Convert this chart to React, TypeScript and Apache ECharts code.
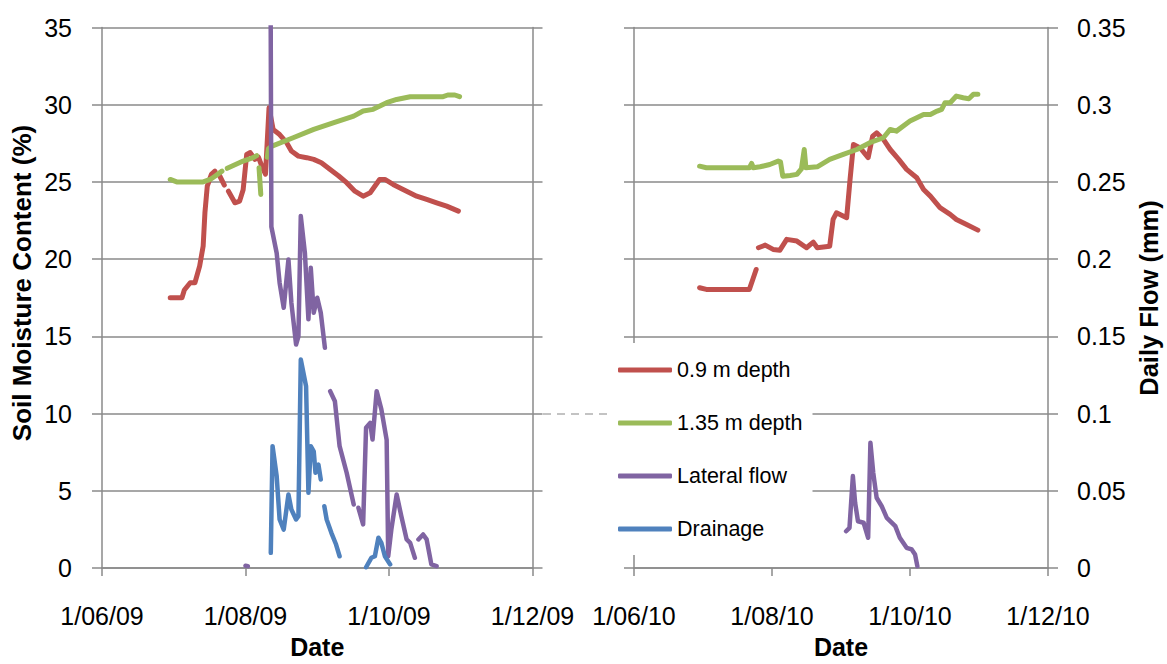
import React, { useEffect, useRef } from "react";
import * as echarts from "echarts";

// ---- data ---------------------------------------------------------------
// [date (local), value]; null marks a break in the record.
type Pt = [string, number | null];

const SERIES_NAMES = ["0.9 m depth", "1.35 m depth", "Lateral flow", "Drainage"];

const DATE_TICKS_2009 = ["2009-06-01", "2009-08-01", "2009-10-01", "2009-12-01"];
const DATE_TICKS_2010 = ["2010-06-01", "2010-08-01", "2010-10-01", "2010-12-01"];

const MOISTURE_RANGE = [0, 35, 5]; // min, max, step (%)
const FLOW_RANGE = [0, 0.35, 0.05]; // min, max, step (mm)

// Soil moisture (%) at 0.9 m, 2009
const moist09_2009: Pt[] = [
  ["2009-06-30", 17.5], ["2009-07-05", 17.5], ["2009-07-06", 18.0], ["2009-07-08 12:00", 18.47],
  ["2009-07-10 12:00", 18.47], ["2009-07-12 12:00", 19.55], ["2009-07-14", 20.84],
  ["2009-07-14 18:00", 23.0], ["2009-07-15 18:00", 24.73], ["2009-07-17 12:00", 25.49],
  ["2009-07-19", 25.7], ["2009-07-20", null], ["2009-07-21", 25.4], ["2009-07-23", 24.8],
  ["2009-07-24", null], ["2009-07-24 18:00", 24.4], ["2009-07-27 12:00", 23.65],
  ["2009-07-29 12:00", 23.76], ["2009-07-31", 24.5], ["2009-08-01 12:00", 26.78],
  ["2009-08-03", 26.9], ["2009-08-05", 26.46], ["2009-08-06 12:00", 26.6], ["2009-08-08", 26.0],
  ["2009-08-09 12:00", 25.5], ["2009-08-11", 29.8], ["2009-08-12 18:00", 28.4],
  ["2009-08-15 12:00", 28.07], ["2009-08-18 12:00", 27.54], ["2009-08-20 12:00", 27.0],
  ["2009-08-23 12:00", 26.67], ["2009-08-27", 26.57], ["2009-08-30", 26.46],
  ["2009-09-02 06:00", 26.24], ["2009-09-06", 25.8], ["2009-09-09 12:00", 25.4],
  ["2009-09-13", 24.95], ["2009-09-16 12:00", 24.4], ["2009-09-20", 24.08], ["2009-09-23", 24.3],
  ["2009-09-27", 25.16], ["2009-09-29 06:00", 25.16], ["2009-10-02 18:00", 24.84],
  ["2009-10-07", 24.51], ["2009-10-12 18:00", 24.08], ["2009-10-17", 23.87],
  ["2009-10-21 06:00", 23.65], ["2009-10-25 12:00", 23.43], ["2009-10-30 12:00", 23.11],
];

// Soil moisture (%) at 1.35 m, 2009
const moist135_2009: Pt[] = [
  ["2009-06-30", 25.16], ["2009-07-02 18:00", 25.0], ["2009-07-14", 25.0], ["2009-07-17", 25.16],
  ["2009-07-19", 25.37], ["2009-07-22", 25.7], ["2009-07-23", null], ["2009-07-24 06:00", 25.88],
  ["2009-07-31", 26.35], ["2009-08-04 06:00", 26.57], ["2009-08-05 18:00", 26.7],
  ["2009-08-06 06:00", null], ["2009-08-06 18:00", 25.92], ["2009-08-07 12:00", 24.19],
  ["2009-08-08 12:00", null], ["2009-08-10 06:00", 26.6], ["2009-08-10 18:00", 27.15],
  ["2009-08-12", 27.3], ["2009-08-21 06:00", 27.86], ["2009-08-30", 28.4],
  ["2009-09-07 06:00", 28.83], ["2009-09-16", 29.26], ["2009-09-20", 29.59],
  ["2009-09-24 06:00", 29.7], ["2009-09-30", 30.13], ["2009-10-04 06:00", 30.34],
  ["2009-10-10", 30.52], ["2009-10-24", 30.52], ["2009-10-26", 30.63], ["2009-10-29", 30.63],
  ["2009-10-31", 30.52],
];

// Daily lateral flow (mm), 2009
const lateral_2009: Pt[] = [
  ["2009-08-01", 0.0015], ["2009-08-02", 0.0012], ["2009-08-05", null],
  ["2009-08-11 12:00", 0.45], ["2009-08-12", 0.221], ["2009-08-14 06:00", 0.204],
  ["2009-08-15 12:00", 0.1847], ["2009-08-17 06:00", 0.1685], ["2009-08-19 06:00", 0.1998],
  ["2009-08-20 12:00", 0.1718], ["2009-08-22 12:00", 0.1447], ["2009-08-23 12:00", 0.15],
  ["2009-08-24 12:00", 0.228], ["2009-08-26 06:00", 0.204], ["2009-08-27 18:00", 0.161],
  ["2009-08-28 18:00", 0.1944], ["2009-08-30", 0.1653], ["2009-08-31 12:00", 0.175],
  ["2009-09-02", 0.1653], ["2009-09-03 18:00", 0.1426], ["2009-09-04 12:00", null],
  ["2009-09-06", 0.1145], ["2009-09-08", 0.108], ["2009-09-10", 0.0789], ["2009-09-13", 0.0617],
  ["2009-09-16", 0.0411], ["2009-09-16 12:00", null], ["2009-09-18", 0.039],
  ["2009-09-20", 0.0282], ["2009-09-21 06:00", 0.0908], ["2009-09-23", 0.094],
  ["2009-09-24", 0.0832], ["2009-09-25 18:00", 0.1145], ["2009-09-27 18:00", 0.1027],
  ["2009-09-30", 0.083], ["2009-09-30 16:00", 0.0076], ["2009-10-02", 0.025],
  ["2009-10-04 06:00", 0.0476], ["2009-10-06 06:00", 0.0335], ["2009-10-08 12:00", 0.0185],
  ["2009-10-10", 0.0163], ["2009-10-12", 0.0066], ["2009-10-12 12:00", null],
  ["2009-10-13 12:00", 0.0185], ["2009-10-15 12:00", 0.0217], ["2009-10-17", 0.0185],
  ["2009-10-19", 0.0023], ["2009-10-21 06:00", 0.0012],
];

// Daily drainage (mm), 2009
const drainage_2009: Pt[] = [
  ["2009-08-11 18:00", 0.0098], ["2009-08-12 12:00", 0.0789], ["2009-08-14 06:00", 0.0595],
  ["2009-08-15 12:00", 0.0314], ["2009-08-17 06:00", 0.0249], ["2009-08-19 06:00", 0.0476],
  ["2009-08-20 12:00", 0.0379], ["2009-08-22 12:00", 0.0314], ["2009-08-23 12:00", 0.0335],
  ["2009-08-24 12:00", 0.135], ["2009-08-26 18:00", 0.1177], ["2009-08-27 18:00", 0.0487],
  ["2009-08-28 18:00", 0.0789], ["2009-08-30", 0.0756], ["2009-08-30 18:00", 0.0617],
  ["2009-09-01", 0.067], ["2009-09-02", 0.0573], ["2009-09-02 12:00", null],
  ["2009-09-03 12:00", 0.04], ["2009-09-04 12:00", 0.0314], ["2009-09-06 12:00", 0.0228],
  ["2009-09-08 12:00", 0.0152], ["2009-09-10", 0.0076], ["2009-09-15", null],
  ["2009-09-21 06:00", 0.0005], ["2009-09-23 12:00", 0.0066], ["2009-09-25", 0.0076],
  ["2009-09-26 12:00", 0.0196], ["2009-09-27 18:00", 0.0163], ["2009-09-29 06:00", 0.0076],
  ["2009-10-01 12:00", 0.0023],
];

// Soil moisture (%) at 0.9 m, 2010
const moist09_2010: Pt[] = [
  ["2010-06-30", 18.15], ["2010-07-03", 18.04], ["2010-07-22", 18.04], ["2010-07-23 12:00", 18.68],
  ["2010-07-25", 19.33], ["2010-07-25 12:00", null], ["2010-07-26", 20.74], ["2010-07-29", 20.91],
  ["2010-08-01 12:00", 20.63], ["2010-08-04 12:00", 20.58], ["2010-08-07 12:00", 21.28],
  ["2010-08-12", 21.17], ["2010-08-16 06:00", 20.74], ["2010-08-19 06:00", 21.1],
  ["2010-08-21", 20.74], ["2010-08-26 12:00", 20.84], ["2010-08-28", 22.57],
  ["2010-08-29 12:00", 23.0], ["2010-09-03", 22.68], ["2010-09-04 12:00", 25.16],
  ["2010-09-06", 27.43], ["2010-09-09", 27.2], ["2010-09-12 12:00", 26.57],
  ["2010-09-14 12:00", 27.97], ["2010-09-16 06:00", 28.18], ["2010-09-19 06:00", 27.75],
  ["2010-09-22 06:00", 27.1], ["2010-09-26", 26.46], ["2010-09-29 12:00", 25.81],
  ["2010-10-04", 25.27], ["2010-10-07", 24.51], ["2010-10-10", 24.08], ["2010-10-14 06:00", 23.33],
  ["2010-10-18 18:00", 22.9], ["2010-10-21 12:00", 22.57], ["2010-10-26", 22.25],
  ["2010-10-31", 21.88],
];

// Soil moisture (%) at 1.35 m, 2010
const moist135_2010: Pt[] = [
  ["2010-06-30", 26.02], ["2010-07-03", 25.92], ["2010-07-22", 25.92], ["2010-07-23", 26.2],
  ["2010-07-23 18:00", 25.92], ["2010-07-26 18:00", 25.98], ["2010-07-31", 26.13],
  ["2010-08-03 18:00", 26.35], ["2010-08-04 18:00", 26.3], ["2010-08-05 18:00", 25.37],
  ["2010-08-09", 25.42], ["2010-08-12", 25.49], ["2010-08-14", 25.85], ["2010-08-15 06:00", 27.1],
  ["2010-08-16", 25.92], ["2010-08-21", 25.98], ["2010-08-26 12:00", 26.46],
  ["2010-09-01 12:00", 26.78], ["2010-09-07 12:00", 27.1], ["2010-09-13 06:00", 27.54],
  ["2010-09-19 06:00", 27.86], ["2010-09-22 06:00", 28.4], ["2010-09-25", 28.29],
  ["2010-10-01", 28.94], ["2010-10-07", 29.37], ["2010-10-10", 29.37], ["2010-10-13", 29.59],
  ["2010-10-15", 29.7], ["2010-10-16 12:00", 30.13], ["2010-10-18 18:00", 30.13],
  ["2010-10-21 12:00", 30.56], ["2010-10-24 12:00", 30.45], ["2010-10-27", 30.39],
  ["2010-10-29", 30.67], ["2010-10-31", 30.67],
];

// Daily lateral flow (mm), 2010
const lateral_2010: Pt[] = [
  ["2010-09-02 18:00", 0.0238], ["2010-09-04 06:00", 0.026], ["2010-09-05 18:00", 0.0595],
  ["2010-09-06 18:00", 0.0422], ["2010-09-08", 0.0303], ["2010-09-10 12:00", 0.0293],
  ["2010-09-12 12:00", 0.0196], ["2010-09-13 12:00", 0.0811], ["2010-09-14 18:00", 0.0617],
  ["2010-09-16 06:00", 0.0455], ["2010-09-18 12:00", 0.04], ["2010-09-20 18:00", 0.0325],
  ["2010-09-24 12:00", 0.0271], ["2010-09-26 12:00", 0.0196], ["2010-09-29 12:00", 0.0131],
  ["2010-10-01 18:00", 0.012], ["2010-10-03 06:00", 0.0087], ["2010-10-04 06:00", 0.0012],
];

// Daily drainage (mm), 2010 (none recorded)
const drainage_2010: Pt[] = [];

// ---- helpers -------------------------------------------------------------
const FONT = "'Liberation Sans', Arial, Helvetica, sans-serif";
const AXIS_GREY = "#8a8a8a";
const COLORS = ["#C0504D", "#9BBB59", "#8064A2", "#4F81BD"];

const toTime = (s: string): number => {
  const [datePart, timePart] = s.split(" ");
  const [y, m, d] = datePart.split("-").map(Number);
  const [hh, mm] = (timePart || "00:00").split(":").map(Number);
  return new Date(y, m - 1, d, hh, mm).getTime();
};

const fmtDate = (v: number): string => {
  const d = new Date(Math.round(v));
  return `${d.getDate()}/${String(d.getMonth() + 1).padStart(2, "0")}/${String(d.getFullYear()).slice(2)}`;
};

const lineSeries = (
  name: string,
  data: Pt[],
  xAxisIndex: number,
  yAxisIndex: number,
  color: string,
  width: number
) => ({
  type: "line",
  name,
  xAxisIndex,
  yAxisIndex,
  data: data.map(([t, v]) => [toTime(t), v === null ? "-" : v]),
  showSymbol: false,
  symbol: "none",
  connectNulls: false,
  clip: true,
  silent: true,
  lineStyle: { color, width, cap: "round", join: "round" },
  itemStyle: { color },
});

const GRID_TOP = 27.5;
const GRID_HEIGHT = 541;
const GRIDS = [
  { left: 102, top: GRID_TOP, width: 430.5, height: GRID_HEIGHT },
  { left: 634, top: GRID_TOP, width: 414, height: GRID_HEIGHT },
];

const TICK_LABEL = { fontFamily: FONT, fontSize: 25, color: "#000" };

// Date axis: a value axis over timestamps, ticked on the first of every second month.
const xAxisFor = (gridIndex: number, ticks: string[]) => {
  const values = ticks.map(toTime);
  return {
    type: "value",
    gridIndex,
    min: values[0],
    max: values[values.length - 1],
    name: "Date",
    nameLocation: "middle",
    nameGap: 66,
    nameTextStyle: { fontFamily: FONT, fontSize: 25, fontWeight: "bold", color: "#000" },
    axisLine: { show: true, onZero: false, lineStyle: { color: AXIS_GREY, width: 1.5 } },
    axisTick: { show: true, length: 8, customValues: values, lineStyle: { color: AXIS_GREY, width: 1.5 } },
    axisLabel: {
      ...TICK_LABEL,
      customValues: values,
      formatter: (v: number) => fmtDate(v),
      margin: 35,
      hideOverlap: false,
      showMinLabel: true,
      showMaxLabel: true,
    },
    splitLine: { show: false },
  };
};

const moistureAxis = (gridIndex: number, showLabels: boolean) => ({
  type: "value",
  gridIndex,
  position: "left",
  min: MOISTURE_RANGE[0],
  max: MOISTURE_RANGE[1],
  interval: MOISTURE_RANGE[2],
  axisLine: { show: true, lineStyle: { color: AXIS_GREY, width: 1.5 } },
  axisTick: { show: true, length: 10, lineStyle: { color: AXIS_GREY, width: 1.5 } },
  axisLabel: { ...TICK_LABEL, show: showLabels, margin: 30 },
  splitLine: { show: true, lineStyle: { color: AXIS_GREY, width: 1.5 } },
});

const flowAxis = (gridIndex: number, showLabels: boolean) => ({
  type: "value",
  gridIndex,
  position: "right",
  min: FLOW_RANGE[0],
  max: FLOW_RANGE[1],
  interval: FLOW_RANGE[2],
  axisLine: { show: true, lineStyle: { color: AXIS_GREY, width: 1.5 } },
  axisTick: { show: true, length: 10, lineStyle: { color: AXIS_GREY, width: 1.5 } },
  axisLabel: { ...TICK_LABEL, show: showLabels, margin: 29 },
  splitLine: { show: false },
});

export default function App() {
  const ref = useRef<HTMLDivElement>(null);

  useEffect(() => {
    if (!ref.current) return;
    const chart = echarts.init(ref.current, undefined, { renderer: "svg" });

    const y10 = GRID_TOP + GRID_HEIGHT * (1 - 10 / MOISTURE_RANGE[1]);

    chart.setOption({
      animation: false,
      backgroundColor: "#ffffff",
      grid: GRIDS,
      xAxis: [xAxisFor(0, DATE_TICKS_2009), xAxisFor(1, DATE_TICKS_2010)],
      yAxis: [moistureAxis(0, true), flowAxis(0, false), moistureAxis(1, false), flowAxis(1, true)],
      legend: {
        data: SERIES_NAMES,
        orient: "vertical",
        left: 612,
        top: 343,
        backgroundColor: "#ffffff",
        padding: [16, 10, 15, 6],
        itemGap: 31,
        itemWidth: 54,
        itemHeight: 5,
        icon: "roundRect",
        selectedMode: false,
        textStyle: { fontFamily: FONT, fontSize: 21.5, color: "#000" },
        z: 10,
      },
      graphic: [
        {
          type: "line",
          shape: { x1: 543, y1: y10, x2: 612, y2: y10 },
          style: { stroke: "#b0b0b0", lineWidth: 1.5, lineDash: [8, 6] },
          silent: true,
        },
        {
          type: "text",
          x: 22,
          y: 283,
          rotation: Math.PI / 2,
          style: {
            text: "Soil Moisture Content (%)",
            fontFamily: FONT,
            fontSize: 26,
            fontWeight: "bold",
            fill: "#000",
            align: "center",
            verticalAlign: "middle",
          },
          silent: true,
        },
        {
          type: "text",
          x: 1149,
          y: 298,
          rotation: Math.PI / 2,
          style: {
            text: "Daily Flow (mm)",
            fontFamily: FONT,
            fontSize: 25.5,
            fontWeight: "bold",
            fill: "#000",
            align: "center",
            verticalAlign: "middle",
          },
          silent: true,
        },
      ],
      series: [
        lineSeries(SERIES_NAMES[0], moist09_2009, 0, 0, COLORS[0], 5),
        lineSeries(SERIES_NAMES[1], moist135_2009, 0, 0, COLORS[1], 5),
        lineSeries(SERIES_NAMES[2], lateral_2009, 0, 1, COLORS[2], 4.5),
        lineSeries(SERIES_NAMES[3], drainage_2009, 0, 1, COLORS[3], 4.5),
        lineSeries(SERIES_NAMES[0], moist09_2010, 1, 2, COLORS[0], 5),
        lineSeries(SERIES_NAMES[1], moist135_2010, 1, 2, COLORS[1], 5),
        lineSeries(SERIES_NAMES[2], lateral_2010, 1, 3, COLORS[2], 4.5),
        lineSeries(SERIES_NAMES[3], drainage_2010, 1, 3, COLORS[3], 4.5),
      ],
    });

    return () => chart.dispose();
  }, []);

  return (
    <div
      ref={ref}
      style={{ position: "fixed", left: 0, top: 0, width: 1167, height: 664, background: "#fff" }}
    />
  );
}
